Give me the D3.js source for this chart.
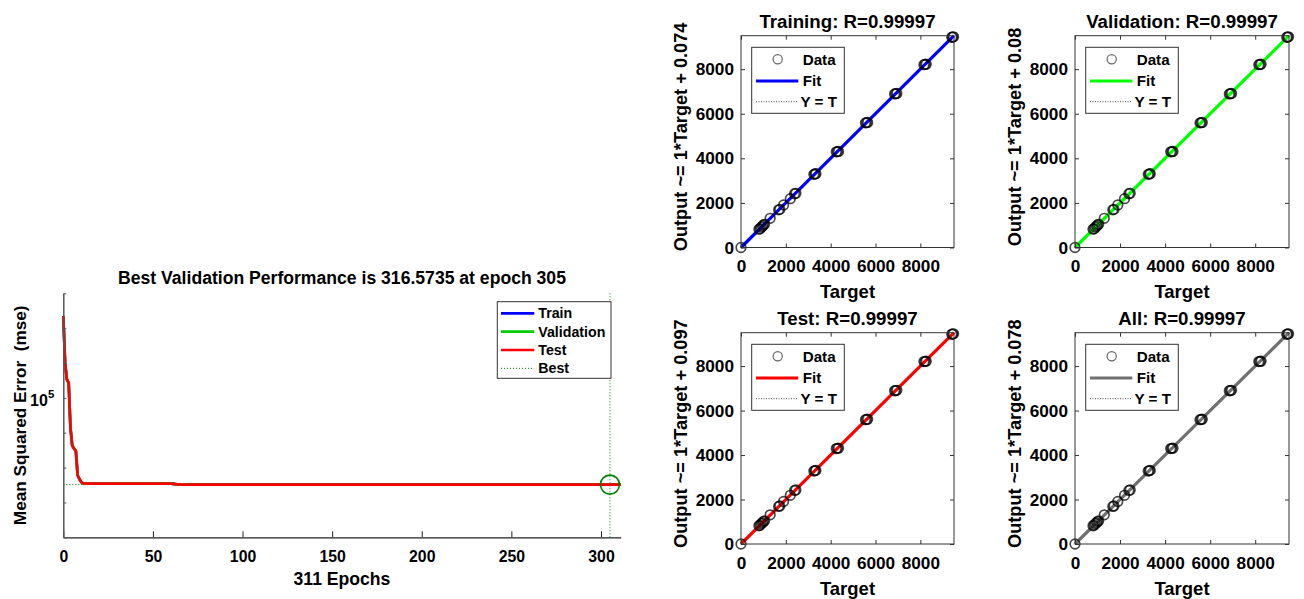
<!DOCTYPE html>
<html><head><meta charset="utf-8">
<script src="https://cdn.jsdelivr.net/npm/d3@7"></script>
<style>
body{margin:0;background:#fff}
text{font-family:"Liberation Sans",Arial,Helvetica,sans-serif;font-weight:bold;fill:#000}
</style>
</head><body>
<svg id="c" width="1304" height="599"></svg>
<script>
// ---------- performance plot data ----------
const perfEpochs = [0,1,2,3,4,5,6,7,8,9,10,11,12,15,60,65,305,311];
const trainMse = [171400,126000,112900,110400,82000,73000,71500,70500,60000,58500,57300,56900,56800,56780,56750,56400,56390,56390];
const validMse = [171400,126000,112900,110400,82000,73000,71500,70500,60000,58500,57300,56900,56800,56780,56750,56400,56390,56390];
const testMse  = [171400,126000,112900,110400,82000,73000,71500,70500,60000,58500,57300,56900,56800,56780,56750,56400,56390,56390];
const bestEpoch = 305;
const bestMse = 56390;
const perfXTicks = [0,50,100,150,200,250,300];
const perfYTickExps = [4.6,4.7,4.8,4.9,5.0,5.1,5.2,5.3];
const perfYLabelExp = 5;
const perfTitle = "Best Validation Performance is 316.5735 at epoch 305";
const perfXLabel = "311 Epochs";
const perfYLabel = "Mean Squared Error  (mse)";
const perfLegend = ["Train","Validation","Test","Best"];

// ---------- regression plot data ----------
const regTargets = [0,800,850,900,960,1000,1050,1300,1680,1730,1900,2200,2390,2450,3250,3300,3340,4250,4300,4350,5550,5600,5650,6850,6900,6950,8160,8210,8260,9400,9440,9480];
const regOutputs = [0,820,840,910,950,1010,1040,1310,1690,1710,1910,2190,2410,2430,3280,3300,3310,4290,4300,4310,5590,5600,5610,6890,6900,6910,8200,8210,8220,9430,9440,9450];
const regTicks = [0,2000,4000,6000,8000];
const regTitles = ["Training: R=0.99997","Validation: R=0.99997","Test: R=0.99997","All: R=0.99997"];
const regYLabels = ["Output ~= 1*Target + 0.074","Output ~= 1*Target + 0.08","Output ~= 1*Target + 0.097","Output ~= 1*Target + 0.078"];
const regLegend = ["Data","Fit","Y = T"];
const regFitColors = ["#0000ff","#00ff00","#ff0000","#707070"];

const svg = d3.select("#c");

// ================= Performance plot =================
(function(){
  const L=63.3, R=620.7, T=293.3, B=537.3;
  const x = d3.scaleLinear().domain([0,311]).range([L,R]);
  const y = d3.scaleLog().domain([Math.pow(10,4.6),Math.pow(10,5.3)]).range([B,T]);
  const g = svg.append("g");

  g.append("line").attr("x1",x(0)).attr("x2",x(311)).attr("y1",y(bestMse)).attr("y2",y(bestMse))
    .attr("stroke","#008000").attr("stroke-width",1).attr("stroke-dasharray","1,2");
  g.append("line").attr("x1",x(bestEpoch)).attr("x2",x(bestEpoch)).attr("y1",T).attr("y2",B)
    .attr("stroke","#008000").attr("stroke-width",1).attr("stroke-dasharray","1,2");

  const line = d3.line().x((d,i)=>x(perfEpochs[i])).y(d=>y(d));
  [[trainMse,"#0000ff"],[validMse,"#00cc00"],[testMse,"#ff0000"]].forEach(([s,c])=>{
    g.append("path").datum(s).attr("d",line).attr("fill","none").attr("stroke",c)
      .attr("stroke-width",2.7).attr("stroke-linejoin","round");
  });
  g.append("circle").attr("cx",x(bestEpoch)).attr("cy",y(bestMse)).attr("r",9.5)
    .attr("fill","none").attr("stroke","#008000").attr("stroke-width",1.6);

  const xa = g.append("g").attr("transform",`translate(0,${B})`)
    .call(d3.axisBottom(x).tickValues(perfXTicks).tickSizeInner(-6).tickSizeOuter(0).tickPadding(13).tickFormat(d3.format("d")));
  xa.select(".domain").attr("stroke","#222").attr("stroke-width",1.3);
  xa.selectAll(".tick line").attr("stroke","#222");
  xa.selectAll("text").style("font-size","15.8px").attr("fill","#000");

  const ya = g.append("g").attr("transform",`translate(${L},0)`)
    .call(d3.axisLeft(y).tickValues(perfYTickExps.map(e=>Math.pow(10,e))).tickSizeInner(-3).tickSizeOuter(0).tickFormat(""));
  ya.select(".domain").attr("stroke","#555").attr("stroke-width",1.5);
  ya.selectAll(".tick line").attr("stroke","#555");
  const lab = g.append("text").attr("x",L-9).attr("y",y(Math.pow(10,perfYLabelExp))+8.5)
    .attr("text-anchor","end").style("font-size","16px");
  lab.append("tspan").text("10");
  lab.append("tspan").attr("dy",-8).style("font-size","11.5px").text(String(perfYLabelExp));

  g.append("text").attr("x",(L+R)/2).attr("y",284).attr("text-anchor","middle")
    .style("font-size","17.6px").text(perfTitle);
  g.append("text").attr("x",(L+R)/2).attr("y",585).attr("text-anchor","middle")
    .style("font-size","17.6px").text(perfXLabel);
  g.append("text").attr("transform",`translate(26,${(T+B)/2}) rotate(-90)`).attr("text-anchor","middle")
    .style("font-size","17.2px").style("white-space","pre").attr("xml:space","preserve").text(perfYLabel);

  const lg = g.append("g");
  lg.append("rect").attr("x",497.3).attr("y",301.7).attr("width",113.7).attr("height",76.6)
    .attr("fill","#fff").attr("stroke","#333").attr("stroke-width",1);
  const cols=["#0000ff","#00cc00","#ff0000","#008000"];
  perfLegend.forEach((t,i)=>{
    const cy = 313.3 + i*18.35;
    lg.append("line").attr("x1",501).attr("x2",534.3).attr("y1",cy).attr("y2",cy)
      .attr("stroke",cols[i]).attr("stroke-width",i===3?1:2.7).attr("stroke-dasharray",i===3?"1,2":null);
    lg.append("text").attr("x",538.3).attr("y",cy+5).style("font-size","14.2px").text(t);
  });
})();

// ================= Regression plots =================
const panels = [
  {x0:741, x1:954, y0:35.7, y1:247.5},
  {x0:1075, x1:1289, y0:35.7, y1:247.5},
  {x0:741, x1:954, y0:332.7, y1:544},
  {x0:1075, x1:1289, y0:332.7, y1:544}
];
panels.forEach((p,k)=>{
  const x = d3.scaleLinear().domain([0,9500]).range([p.x0,p.x1]);
  const y = d3.scaleLinear().domain([0,9500]).range([p.y1,p.y0]);
  const g = svg.append("g");
  const axCol = "#333";

  g.append("line").attr("x1",x(0)).attr("y1",y(0)).attr("x2",x(9500)).attr("y2",y(9500))
    .attr("stroke","#000").attr("stroke-width",1).attr("stroke-dasharray","1,2");
  g.append("line").attr("x1",x(0)).attr("y1",y(0)).attr("x2",x(9500)).attr("y2",y(9500))
    .attr("stroke",regFitColors[k]).attr("stroke-width",3.2);
  g.selectAll("circle.d").data(regTargets).join("circle").attr("class","d")
    .attr("cx",d=>x(d)).attr("cy",(d,i)=>y(regOutputs[i])).attr("r",4.8)
    .attr("fill","none").attr("stroke","#000").attr("stroke-opacity",0.72).attr("stroke-width",1.7);

  const xa = g.append("g").attr("transform",`translate(0,${p.y1})`)
    .call(d3.axisBottom(x).tickValues(regTicks).tickSizeInner(-4).tickSizeOuter(0).tickPadding(12.5).tickFormat(d3.format("d")));
  const xt = g.append("g").attr("transform",`translate(0,${p.y0})`)
    .call(d3.axisTop(x).tickValues(regTicks).tickSizeInner(-4).tickSizeOuter(0).tickFormat(""));
  const ya = g.append("g").attr("transform",`translate(${p.x0},0)`)
    .call(d3.axisLeft(y).tickValues(regTicks).tickSizeInner(-4).tickSizeOuter(0).tickPadding(7).tickFormat(d3.format("d")));
  const yr = g.append("g").attr("transform",`translate(${p.x1},0)`)
    .call(d3.axisRight(y).tickValues(regTicks).tickSizeInner(-4).tickSizeOuter(0).tickFormat(""));
  [xa,xt,ya,yr].forEach(a=>{
    a.select(".domain").remove();
    a.selectAll(".tick line").attr("stroke",axCol);
    a.selectAll("text").style("font-size","17.2px").attr("fill","#000");
  });
  g.append("rect").attr("x",p.x0).attr("y",p.y0).attr("width",p.x1-p.x0).attr("height",p.y1-p.y0)
    .attr("fill","none").attr("stroke",axCol).attr("stroke-width",1);

  const cx=(p.x0+p.x1)/2, cy=(p.y0+p.y1)/2;
  g.append("text").attr("x",cx).attr("y",p.y0-8).attr("text-anchor","middle").style("font-size","18.7px").text(regTitles[k]);
  g.append("text").attr("x",cx).attr("y",p.y1+50.5).attr("text-anchor","middle").style("font-size","18.5px").text("Target");
  g.append("text").attr("transform",`translate(${p.x0-54},${cy-4.7}) rotate(-90)`).attr("text-anchor","middle")
    .style("font-size","18.2px").text(regYLabels[k]);

  const lx=p.x0, ly=p.y0;
  g.append("rect").attr("x",lx+10.7).attr("y",ly+11.6).attr("width",92.6).attr("height",66)
    .attr("fill","#fff").attr("stroke",axCol).attr("stroke-width",1);
  g.append("circle").attr("cx",lx+36.7).attr("cy",ly+23.6).attr("r",4.6)
    .attr("fill","none").attr("stroke","#000").attr("stroke-opacity",0.6).attr("stroke-width",1.2);
  g.append("line").attr("x1",lx+15).attr("x2",lx+57.3).attr("y1",ly+45.3).attr("y2",ly+45.3)
    .attr("stroke",regFitColors[k]).attr("stroke-width",3.2);
  g.append("line").attr("x1",lx+15).attr("x2",lx+57.3).attr("y1",ly+66).attr("y2",ly+66)
    .attr("stroke","#000").attr("stroke-width",1).attr("stroke-dasharray","1,1.5").attr("stroke-opacity",0.7);
  [23.6,45.3,66].forEach((o,i)=>{
    g.append("text").attr("x",lx+(i===2?59.5:61.7)).attr("y",ly+o+5.4).style("font-size","15.2px").text(regLegend[i]);
  });
});
</script>
</body></html>
